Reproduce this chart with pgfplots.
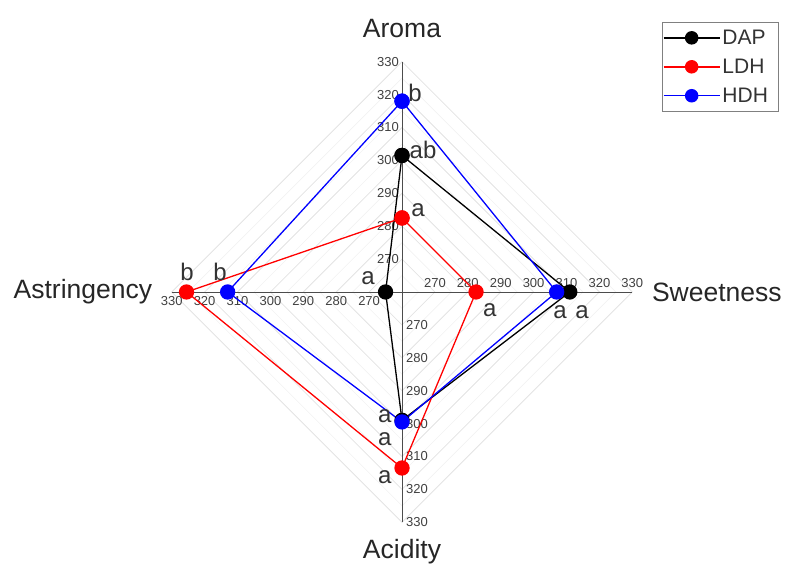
\documentclass[border=0pt]{standalone}
\usepackage{pgfplots}
\usepackage{pgfplotstable}
\pgfplotsset{compat=1.18}
\usepackage{fontspec}
\setmainfont{Liberation Sans}
\pgfplotstableread{
a v
90 301.5
0 311
270 299
180 265
90 301.5
}\dap
\pgfplotstableread{
a v
90 282.5
0 282.5
270 313.5
180 325.5
90 282.5
}\ldh
\pgfplotstableread{
a v
90 318
0 307
270 299.5
180 313
90 318
}\hdh
\begin{document}
\begin{tikzpicture}
\begin{axis}[
  hide axis, scale only axis,
  x=3.29pt, y=3.29pt,
  xmin=-122.19, xmax=116.41, ymin=-82.98, ymax=88.75,
  clip=false,
  legend style={at={(axis cs:79.03,82.07)}, anchor=north west, draw=gray, line width=0.8pt,
    font=\fontsize{21}{24}\selectfont, text=black!80, row sep=9pt, inner xsep=0.5pt, inner ysep=5.5pt, cells={anchor=west}},
  legend image code/.code={\draw[line width=1.5pt, mark size=6pt, mark repeat=2,mark phase=2] plot coordinates {(0pt,0pt)(28pt,0pt)(56pt,0pt)};},
]
% grid diamonds
\pgfplotsinvokeforeach{10,20,30,40,50,60,70}{
  \draw[gray!22, line width=0.8pt] (axis cs:#1,0) -- (axis cs:0,#1) -- (axis cs:-#1,0) -- (axis cs:0,-#1) -- cycle;
}
\pgfplotsinvokeforeach{5,15,25,35,45,55,65}{
  \draw[gray!10, line width=0.6pt] (axis cs:#1,0) -- (axis cs:0,#1) -- (axis cs:-#1,0) -- (axis cs:0,-#1) -- cycle;
}
\draw[black!70, line width=0.9pt] (axis cs:0,-70) -- (axis cs:0,70);
\draw[black!70, line width=0.9pt] (axis cs:-70,0) -- (axis cs:70,0);
% tick labels
\pgfplotsinvokeforeach{270,280,290,300,310,320,330}{
  \node[anchor=east, font=\fontsize{13}{14}\selectfont, text=black!75, inner sep=0pt, xshift=-3pt, yshift={(#1-260)*3.29pt}] at (axis cs:0,0) {#1};
  \node[anchor=south, font=\fontsize{13}{14}\selectfont, text=black!75, inner sep=0pt, yshift=4pt, xshift={(#1-260)*3.29pt}] at (axis cs:0,0) {#1};
  \node[anchor=west, font=\fontsize{13}{14}\selectfont, text=black!75, inner sep=0pt, xshift=4pt, yshift={-(#1-260)*3.29pt}] at (axis cs:0,0) {#1};
  \node[anchor=north, font=\fontsize{13}{14}\selectfont, text=black!75, inner sep=0pt, yshift=-4pt, xshift={-(#1-260)*3.29pt}] at (axis cs:0,0) {#1};
}
\addplot[black, line width=1.3pt, mark=*, mark size=7pt, mark options={solid}]
  table[x expr={(\thisrow{v}-260)*cos(\thisrow{a})}, y expr={(\thisrow{v}-260)*sin(\thisrow{a})}] {\dap};
\addlegendentry{DAP\kern8pt}
\addplot[red, line width=1.3pt, mark=*, mark size=7pt, mark options={solid}]
  table[x expr={(\thisrow{v}-260)*cos(\thisrow{a})}, y expr={(\thisrow{v}-260)*sin(\thisrow{a})}] {\ldh};
\addlegendentry{LDH\kern8pt}
\addplot[blue, line width=1.3pt, mark=*, mark size=7pt, mark options={solid}]
  table[x expr={(\thisrow{v}-260)*cos(\thisrow{a})}, y expr={(\thisrow{v}-260)*sin(\thisrow{a})}] {\hdh};
\addlegendentry{HDH\kern8pt}
% axis names
\begin{scope}[every node/.style={font=\fontsize{26.5}{30}\selectfont, text=black!85, inner sep=0pt}]
\node[anchor=base] at (axis cs:0,77.5) {Aroma};
\node at (axis cs:95.7,0) {Sweetness};
\node[anchor=base] at (axis cs:0,-80.9) {Acidity};
\node at (axis cs:-97,0) {Astringency};
\end{scope}
% letters
\begin{scope}[every node/.style={font=\fontsize{24}{26}\selectfont, text=black!80, inner sep=0pt}]
\node at (axis cs:3.95,60.5) {b};
\node at (axis cs:6.4,43.2) {ab};
\node at (axis cs:4.9,24.9) {a};
\node at (axis cs:26.7,-5.5) {a};
\node at (axis cs:48.0,-6.1) {a};
\node at (axis cs:54.7,-6.1) {a};
\node at (axis cs:-65.3,6.1) {b};
\node at (axis cs:-55.3,6.1) {b};
\node at (axis cs:-10.3,4.3) {a};
\node at (axis cs:-5.2,-37.8) {a};
\node at (axis cs:-5.2,-44.6) {a};
\node at (axis cs:-5.2,-56.2) {a};
\end{scope}
\end{axis}
\pgfresetboundingbox
\path (current axis.south west) rectangle (current axis.north east);
\end{tikzpicture}
\end{document}
